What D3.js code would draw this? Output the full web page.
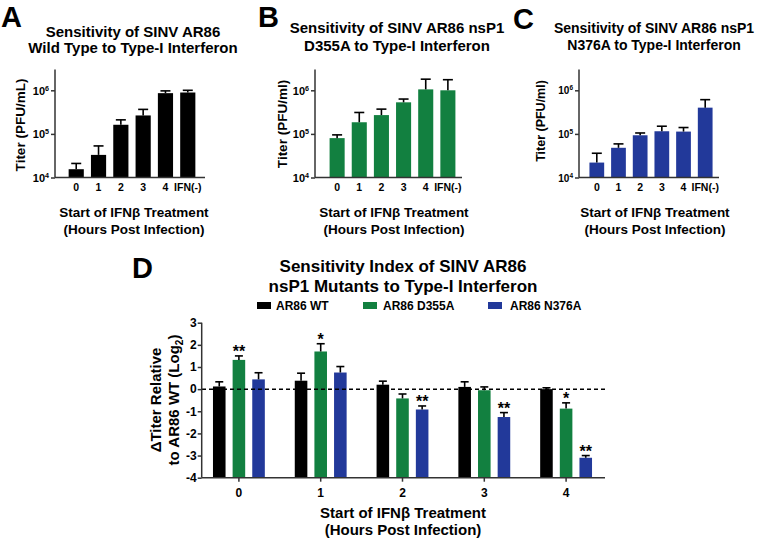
<!DOCTYPE html>
<html><head><meta charset="utf-8">
<script src="https://cdn.jsdelivr.net/npm/d3@7"></script>
<style>body{margin:0;background:#fff}svg{display:block}text{font-family:"Liberation Sans",Arial,sans-serif;font-weight:bold;fill:#000}</style>
</head><body>
<script>
// ---------- DATA ----------
const topCategories = ["0","1","2","3","4","IFN(-)"];
const titerTicks = [1e4, 1e5, 1e6];
// Panel A (WT): mean titer and top of error bar (PFU/mL)
const wtTiter      = [1.55e4, 3.3e4, 1.62e5, 2.65e5, 8.6e5, 8.9e5];
const wtTiterUpper = [2.1e4, 5.3e4, 2.1e5, 3.65e5, 9.7e5, 1.0e6];
// Panel B (D355A)
const d355Titer      = [8.0e4, 1.85e5, 2.7e5, 5.3e5, 1.05e6, 1.0e6];
const d355TiterUpper = [9.5e4, 3.1e5, 3.7e5, 6.3e5, 1.8e6, 1.75e6];
// Panel C (N376A)
const n376Titer      = [2.2e4, 4.8e4, 9.3e4, 1.15e5, 1.13e5, 4.0e5];
const n376TiterUpper = [3.6e4, 5.9e4, 1.05e5, 1.5e5, 1.4e5, 6.1e5];

// Panel D: sensitivity index (log2)
const hours = ["0","1","2","3","4"];
const seriesNames = ["AR86 WT","AR86 D355A","AR86 N376A"];
const wtIndex        = [0.12, 0.38, 0.20, 0.10, 0.00];
const wtIndexUpper   = [0.33, 0.72, 0.36, 0.33, 0.06];
const d355Index      = [1.32, 1.70, -0.42, -0.05, -0.88];
const d355IndexUpper = [1.50, 2.05, -0.22, 0.10, -0.62];
const n376Index      = [0.44, 0.75, -0.92, -1.26, -3.10];
const n376IndexUpper = [0.74, 1.02, -0.76, -1.06, -3.00];
const d355Sig = ["**","*","","","*"];
const n376Sig = ["","","**","**","**"];
const wtSig   = ["","","","",""];
const indexTicks = [-4,-3,-2,-1,0,1,2,3];

// ---------- STYLE ----------
const BLACK = "#000000", GREEN = "#128040", BLUE = "#22399a";
const AXIS = "#333";

const svg = d3.select("body").append("svg").attr("width",760).attr("height",542);

function drawTop(c){
  const g = svg.append("g");
  const y = d3.scaleLog().domain([1e4, 3e6]).range([177.5, 69.5]);
  const x = d3.scaleBand().domain(topCategories).range(c.band).padding(0.32);
  // letter
  g.append("text").attr("x",c.letter[0]).attr("y",c.letter[1]).attr("font-size",29).text(c.L);
  // title
  c.title.forEach((t,i)=>g.append("text").attr("x",c.titleCx).attr("y",c.titleBase[i])
    .attr("text-anchor","middle").attr("font-size",c.titleSize).text(t));
  // bars
  g.selectAll("rect.bar").data(c.mean).join("rect").attr("class","bar")
    .attr("x",(d,i)=>x(topCategories[i])).attr("width",x.bandwidth())
    .attr("y",d=>y(d)).attr("height",d=>y(1e4)-y(d)).attr("fill",c.color);
  // error bars
  const cap = 10;
  c.upper.forEach((u,i)=>{
    const cx = x(topCategories[i]) + x.bandwidth()/2;
    g.append("line").attr("x1",cx).attr("x2",cx).attr("y1",y(c.mean[i])).attr("y2",y(u)).attr("stroke","#000").attr("stroke-width",1.6);
    g.append("line").attr("x1",cx-cap/2).attr("x2",cx+cap/2).attr("y1",y(u)).attr("y2",y(u)).attr("stroke","#000").attr("stroke-width",1.6);
  });
  // y axis
  const ya = g.append("g").attr("transform",`translate(${c.axisX},0)`)
    .call(d3.axisLeft(y).tickValues(titerTicks).tickSize(4).tickFormat(""));
  ya.select(".domain").attr("stroke",AXIS).attr("stroke-width",1.5).attr("d",`M-0,69.5V177.5`);
  ya.selectAll(".tick line").attr("stroke",AXIS).attr("stroke-width",1.5);
  ya.selectAll(".tick").each(function(d){
    const t = d3.select(this).append("text").attr("x",-6).attr("dy","0.35em").attr("text-anchor","end").attr("font-size",c.tickSize);
    t.append("tspan").text("10");
    t.append("tspan").attr("dy",-4).attr("font-size",c.tickSize*0.65).text(Math.round(Math.log10(d)));
  });
  // x axis
  const xa = g.append("g").attr("transform","translate(0,177.5)")
    .call(d3.axisBottom(x).tickSize(0));
  xa.select(".domain").remove();
  xa.append("line").attr("x1",c.axisX).attr("x2",c.xEnd).attr("stroke",AXIS).attr("stroke-width",1.5);
  xa.selectAll(".tick text").attr("font-size",10.5).attr("dy",0).attr("y",13.5).attr("fill","#000")
    .attr("font-family",'"Liberation Sans",Arial,sans-serif');
  // axis titles
  g.append("text").attr("transform",`translate(${c.yLabX},${c.yLabCy}) rotate(-90)`).attr("text-anchor","middle")
    .attr("font-size",c.yLabSize).text(c.yLab);
  g.append("text").attr("x",c.xTitleCx).attr("y",217).attr("text-anchor","middle").attr("font-size",13.5).text("Start of IFNβ Treatment");
  g.append("text").attr("x",c.xTitleCx).attr("y",234).attr("text-anchor","middle").attr("font-size",13.5).text("(Hours Post Infection)");
}

drawTop({L:"A",letter:[1,26.5],title:["Sensitivity of SINV AR86","Wild Type to Type-I Interferon"],titleCx:133,titleBase:[37,53],titleSize:15,
  mean:wtTiter,upper:wtTiterUpper,color:BLACK,axisX:55,band:[61.5,202.5],xEnd:205,tickSize:11,
  yLab:"Titer (PFU/mL)",yLabX:25,yLabCy:125,yLabSize:13.5,xTitleCx:134});
drawTop({L:"B",letter:[258,26.5],title:["Sensitivity of SINV AR86 nsP1","D355A to Type-I Interferon"],titleCx:397,titleBase:[33,51],titleSize:15,
  mean:d355Titer,upper:d355TiterUpper,color:GREEN,axisX:315,band:[322.5,462.5],xEnd:462,tickSize:11,
  yLab:"Titer (PFU/ml)",yLabX:287,yLabCy:124,yLabSize:13.5,xTitleCx:394});
drawTop({L:"C",letter:[513,28.5],title:["Sensitivity of SINV AR86 nsP1","N376A to Type-I Interferon"],titleCx:654,titleBase:[33,50],titleSize:14,
  mean:n376Titer,upper:n376TiterUpper,color:BLUE,axisX:579,band:[582.5,719.5],xEnd:719,tickSize:10,
  yLab:"Titer (PFU/ml)",yLabX:545,yLabCy:121,yLabSize:12.5,xTitleCx:655});

// ---------- PANEL D ----------
(function(){
  const g = svg.append("g");
  const y = d3.scaleLinear().domain([-4,3]).range([477.7,322.7]);
  const x0 = d3.scaleBand().domain(hours).range([198,607]);
  const x1 = d3.scaleBand().domain(seriesNames).range([-33,33]).padding(0.36);
  const colors = [BLACK, GREEN, BLUE];
  const means = [wtIndex, d355Index, n376Index];
  const uppers = [wtIndexUpper, d355IndexUpper, n376IndexUpper];
  const sigs = [wtSig, d355Sig, n376Sig];

  g.append("text").attr("x",132).attr("y",278).attr("font-size",29).text("D");
  g.append("text").attr("x",403).attr("y",272).attr("text-anchor","middle").attr("font-size",17).text("Sensitivity Index of SINV AR86");
  g.append("text").attr("x",403).attr("y",292).attr("text-anchor","middle").attr("font-size",17).text("nsP1 Mutants to Type-I Interferon");

  // legend
  const legX = [[257,276],[363,383],[488,510]];
  seriesNames.forEach((s,i)=>{
    g.append("rect").attr("x",legX[i][0]).attr("y",302).attr("width",14).attr("height",7).attr("fill",colors[i]);
    g.append("text").attr("x",legX[i][1]).attr("y",310).attr("font-size",12).text(s);
  });

  // bars
  seriesNames.forEach((s,si)=>{
    g.selectAll(null).data(means[si]).join("rect")
      .attr("x",(d,i)=>x0(hours[i])+x0.bandwidth()/2+x1(s)).attr("width",x1.bandwidth())
      .attr("y",d=>y(d)).attr("height",d=>y(-4)-y(d)).attr("fill",colors[si]);
    uppers[si].forEach((u,i)=>{
      const cx = x0(hours[i])+x0.bandwidth()/2+x1(s)+x1.bandwidth()/2;
      g.append("line").attr("x1",cx).attr("x2",cx).attr("y1",y(means[si][i])).attr("y2",y(u)).attr("stroke","#000").attr("stroke-width",1.6);
      g.append("line").attr("x1",cx-4).attr("x2",cx+4).attr("y1",y(u)).attr("y2",y(u)).attr("stroke","#000").attr("stroke-width",1.6);
      if (sigs[si][i]) g.append("text").attr("x",cx).attr("y",y(u)+1).attr("text-anchor","middle").attr("font-size",16).attr("font-weight","normal").text(sigs[si][i]);
    });
  });

  // zero dashed line
  g.append("line").attr("x1",202).attr("x2",605).attr("y1",y(0)).attr("y2",y(0))
    .attr("stroke","#000").attr("stroke-width",1.5).attr("stroke-dasharray","4,3");

  // axes
  const ya = g.append("g").attr("transform","translate(201.7,0)")
    .call(d3.axisLeft(y).tickValues(indexTicks).tickSize(4).tickFormat(d3.format("d")));
  ya.select(".domain").attr("stroke",AXIS).attr("stroke-width",1.5).attr("d","M0,322.7V477.7");
  ya.selectAll(".tick line").attr("stroke",AXIS).attr("stroke-width",1.5);
  ya.selectAll(".tick text").attr("font-size",12).attr("x",-5).attr("fill","#000")
    .attr("font-family",'"Liberation Sans",Arial,sans-serif').text(d=>d<0?"-"+Math.abs(d):d);

  const xa = g.append("g").attr("transform","translate(0,477.7)").call(d3.axisBottom(x0).tickSize(4));
  xa.select(".domain").remove();
  xa.append("line").attr("x1",201.7).attr("x2",605).attr("stroke",AXIS).attr("stroke-width",1.5);
  xa.selectAll(".tick line").attr("stroke",AXIS).attr("stroke-width",1.5);
  xa.selectAll(".tick text").attr("font-size",12).attr("y",11).attr("dy","0.71em").attr("fill","#000")
    .attr("font-family",'"Liberation Sans",Arial,sans-serif');

  const yl = g.append("text").attr("transform","translate(161,400) rotate(-90)").attr("text-anchor","middle").attr("font-size",15);
  yl.text("ΔTiter Relative");
  const yl2 = g.append("text").attr("transform","translate(179,400) rotate(-90)").attr("text-anchor","middle").attr("font-size",15);
  yl2.append("tspan").text("to AR86 WT (Log");
  yl2.append("tspan").attr("font-size",10).attr("dy",4).text("2");
  yl2.append("tspan").attr("dy",-4).text(")");

  g.append("text").attr("x",403).attr("y",518).attr("text-anchor","middle").attr("font-size",15).text("Start of IFNβ Treatment");
  g.append("text").attr("x",403).attr("y",535).attr("text-anchor","middle").attr("font-size",15).text("(Hours Post Infection)");
})();
</script>
</body></html>
